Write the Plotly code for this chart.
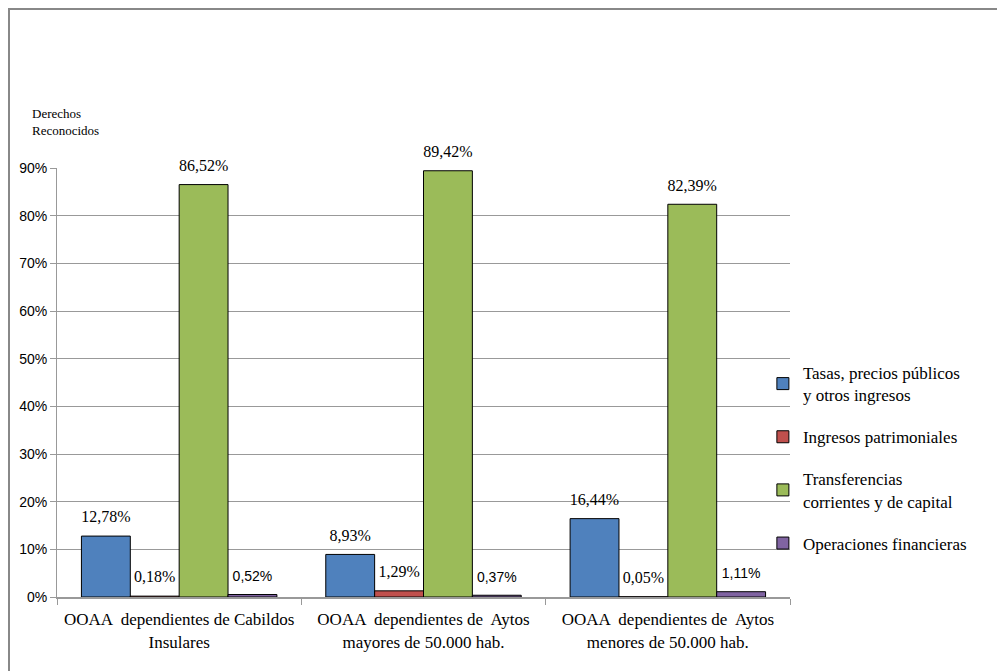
import plotly.graph_objects as go

categories = [
    "OOAA  dependientes de Cabildos<br>Insulares",
    "OOAA  dependientes de  Aytos<br>mayores de 50.000 hab.",
    "OOAA  dependientes de  Aytos<br>menores de 50.000 hab.",
]
series_names = [
    "Tasas, precios públicos<br>y otros ingresos",
    "Ingresos patrimoniales",
    "Transferencias<br>corrientes y de capital",
    "Operaciones financieras",
]
tasas = [12.78, 8.93, 16.44]
patrimoniales = [0.18, 1.29, 0.05]
transferencias = [86.52, 89.42, 82.39]
financieras = [0.52, 0.37, 1.11]
y_ticks = [0, 10, 20, 30, 40, 50, 60, 70, 80, 90]
y_tick_labels = [f"{v}%" for v in y_ticks]

colors = ["#4F81BD", "#C0504D", "#9BBB59", "#8064A2"]
serif = "Liberation Serif"
sans = "Liberation Sans"

def fmt(v):
    return f"{v:.2f}%".replace(".", ",")

fig = go.Figure()
all_values = [tasas, patrimoniales, transferencias, financieras]
label_fonts = [serif, serif, serif, sans]
for i, (name, vals, col) in enumerate(zip(series_names, all_values, colors)):
    fig.add_trace(go.Bar(
        x=categories, y=vals, name=name, legendgroup=f"g{i}",
        offsetgroup=f"o{i}",
        marker=dict(color=col, line=dict(color="black", width=1)),
        hoverinfo="skip",
    ))
# data labels, grouped like the bars
for i, (vals, lf) in enumerate(zip(all_values, label_fonts)):
    fig.add_trace(go.Scatter(
        x=categories, y=vals, mode="markers+text", showlegend=False,
        offsetgroup=f"o{i}",
        marker=dict(size=14, opacity=0),
        text=[fmt(v) for v in vals], textposition="top center",
        textfont=dict(family=lf, size=16 if lf == serif else 14, color="black"),
        cliponaxis=False, hoverinfo="skip",
    ))

W, H = 997, 663
fig.update_layout(
    width=W, height=H,
    barmode="group", bargap=0.2, bargroupgap=0,
    scattermode="group", scattergap=0.2,
    paper_bgcolor="white", plot_bgcolor="white",
    margin=dict(l=49, r=215, t=160, b=74, autoexpand=False),
    showlegend=True,
    legend=dict(x=0.963, xanchor="left", y=0.324, yanchor="middle",
                bgcolor="rgba(0,0,0,0)", traceorder="grouped",
                font=dict(family=serif, size=17, color="black"),
                tracegroupgap=17, itemwidth=30),
    xaxis=dict(showline=True, linecolor="#999999", linewidth=2,
               ticks="outside", tickson="boundaries", ticklen=6, tickcolor="#999999",
               ticklabelstandoff=6,
               tickfont=dict(family=serif, size=17, color="black")),
    yaxis=dict(range=[0, 90], tickvals=y_ticks, ticktext=y_tick_labels,
               showline=True, linecolor="#999999", linewidth=1,
               showgrid=True, gridcolor="#999999", gridwidth=1,
               ticks="outside", ticklen=6, tickcolor="#999999",
               tickfont=dict(family=sans, size=14, color="black")),
    shapes=[dict(type="rect", xref="paper", yref="paper",
                 x0=-0.0655, x1=1.4, y0=-0.3, y1=1.3706,
                 line=dict(color="#888888", width=2), fillcolor="rgba(0,0,0,0)")],
    annotations=[dict(text="Derechos<br>Reconocidos", xref="paper", yref="paper",
                      x=-0.0368, y=1.066, xanchor="left", yanchor="bottom", align="left",
                      showarrow=False, font=dict(family=serif, size=13, color="black"))],
)

fig.write_html("out.html")
